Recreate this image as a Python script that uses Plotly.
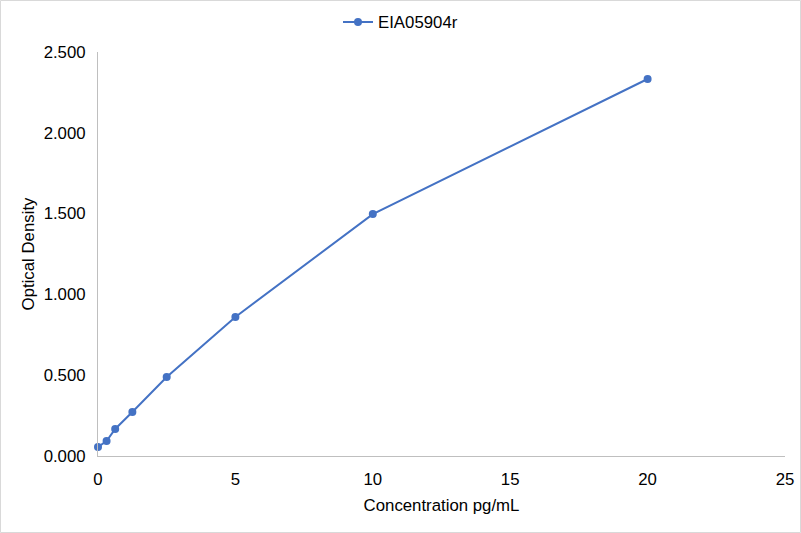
import plotly.graph_objects as go

# Curva padrão EIA05904r
concentration = [0, 0.3125, 0.625, 1.25, 2.5, 5, 10, 20]
optical_density = [0.056, 0.093, 0.167, 0.272, 0.489, 0.860, 1.497, 2.333]
y_ticks = [0, 0.5, 1.0, 1.5, 2.0, 2.5]
x_ticks = [0, 5, 10, 15, 20, 25]

W, H = 801, 533
ml, mr, mt, mb = 98, 16, 52, 77
pw, ph = W - ml - mr, H - mt - mb

fig = go.Figure()
fig.add_trace(go.Scatter(
    x=concentration,
    y=optical_density,
    mode='lines+markers',
    name='EIA05904r',
    line=dict(color='#4472C4', width=2),
    marker=dict(color='#4472C4', size=8),
    cliponaxis=False,  # o primeiro ponto fica em x=0, não pode ser cortado
))

axis_font = dict(family='Liberation Sans, Arial', size=16.8, color='#000000')

fig.update_layout(
    width=W, height=H,
    margin=dict(l=ml, r=mr, t=mt, b=mb, autoexpand=False),
    paper_bgcolor='white',
    plot_bgcolor='white',
    font=axis_font,
    showlegend=True,
    legend=dict(orientation='h', x=0.5, xanchor='center', xref='container',
                y=1 - 22 / H, yanchor='middle', yref='container',
                font=axis_font),
    xaxis=dict(
        range=[0, 25], tickvals=x_ticks, ticktext=[str(v) for v in x_ticks],
        showgrid=False, zeroline=False, showline=True, linecolor='#BFBFBF', linewidth=1,
        ticks='', ticklabelstandoff=8, automargin=False,
        title=dict(text='Concentration pg/mL', font=axis_font, standoff=11),
    ),
    yaxis=dict(
        range=[0, 2.5], tickvals=y_ticks, ticktext=[f'{v:.3f}' for v in y_ticks],
        showgrid=False, zeroline=False, showline=True, linecolor='#BFBFBF', linewidth=1,
        ticks='', ticklabelstandoff=8, automargin=False,
        title=dict(text='Optical Density', font=axis_font, standoff=4),
    ),
)

# Borda cinza clara ao redor do gráfico
fig.add_shape(
    type='rect', xref='paper', yref='paper',
    x0=(-ml + 0.5) / pw, x1=1 + (mr - 0.5) / pw,
    y0=(-mb + 0.5) / ph, y1=1 + (mt - 0.5) / ph,
    line=dict(color='#D9D9D9', width=1), fillcolor='rgba(0,0,0,0)', layer='below',
)

# remove a margem padrão do body para o gráfico ocupar a janela toda
fig.write_html('out.html', config={'displayModeBar': False},
               post_script="document.body.style.margin='0';")
